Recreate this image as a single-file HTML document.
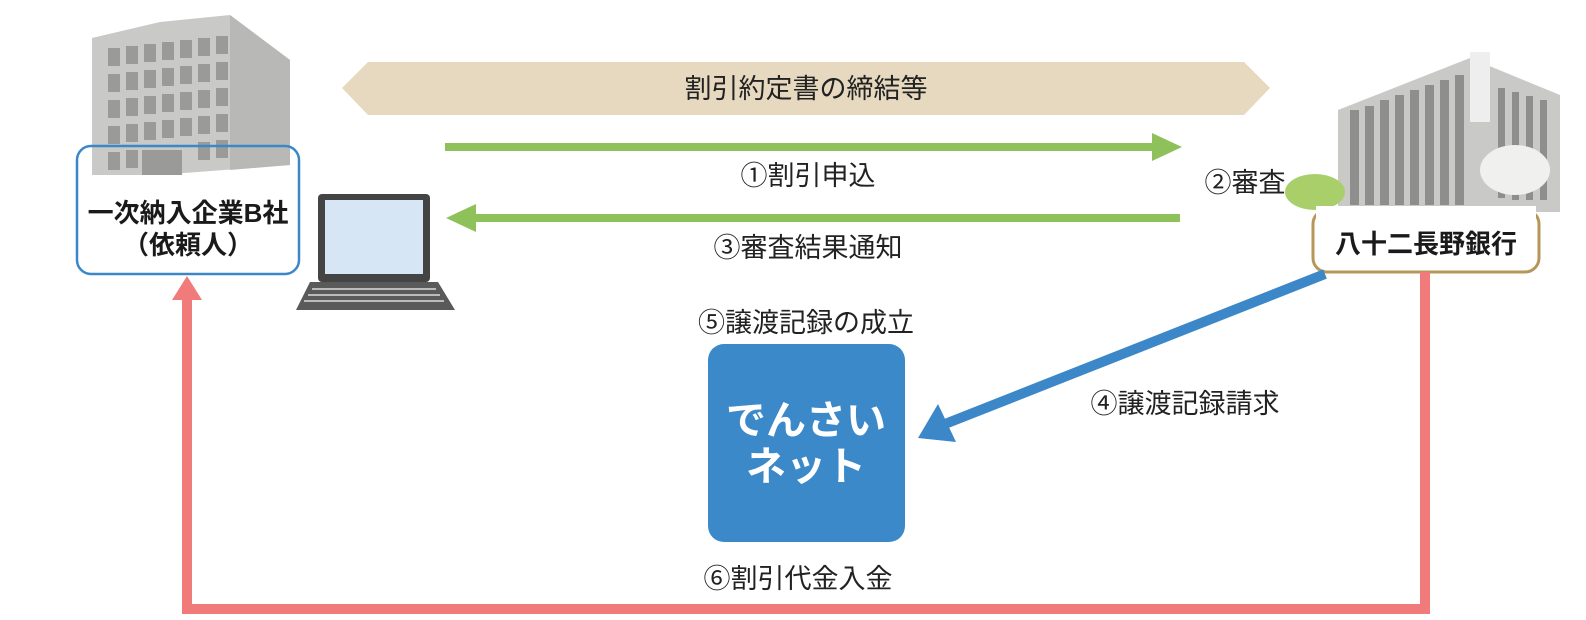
<!DOCTYPE html>
<html><head><meta charset="utf-8"><style>
html,body{margin:0;padding:0;background:#fff;}
svg{display:block;}
text{font-family:"Liberation Sans","Noto Sans CJK JP",sans-serif;}
</style></head><body>
<svg width="1586" height="620" viewBox="0 0 1586 620" xmlns="http://www.w3.org/2000/svg">
<!-- left building -->
<polygon points="92,38 160,22 230,15 290,60 290,165 92,180" fill="#c9c9c7"/>
<polygon points="230,15 290,60 290,165 230,170" fill="#b8b8b6"/>
<g fill="#9a9a98">
<rect x="108" y="48" width="12" height="18"/><rect x="126" y="46" width="12" height="18"/><rect x="144" y="44" width="12" height="18"/><rect x="162" y="42" width="12" height="18"/><rect x="180" y="40" width="12" height="18"/><rect x="198" y="38" width="12" height="18"/><rect x="216" y="36" width="12" height="18"/>
<rect x="108" y="74" width="12" height="18"/><rect x="126" y="72" width="12" height="18"/><rect x="144" y="70" width="12" height="18"/><rect x="162" y="68" width="12" height="18"/><rect x="180" y="66" width="12" height="18"/><rect x="198" y="64" width="12" height="18"/><rect x="216" y="62" width="12" height="18"/>
<rect x="108" y="100" width="12" height="18"/><rect x="126" y="98" width="12" height="18"/><rect x="144" y="96" width="12" height="18"/><rect x="162" y="94" width="12" height="18"/><rect x="180" y="92" width="12" height="18"/><rect x="198" y="90" width="12" height="18"/><rect x="216" y="88" width="12" height="18"/>
<rect x="108" y="126" width="12" height="18"/><rect x="126" y="124" width="12" height="18"/><rect x="144" y="122" width="12" height="18"/><rect x="162" y="120" width="12" height="18"/><rect x="180" y="118" width="12" height="18"/><rect x="198" y="116" width="12" height="18"/><rect x="216" y="114" width="12" height="18"/>
<rect x="108" y="152" width="12" height="18"/><rect x="126" y="150" width="12" height="18"/><rect x="142" y="150" width="40" height="30"/><rect x="198" y="142" width="12" height="18"/><rect x="216" y="140" width="12" height="18"/>
</g>
<!-- left box -->
<rect x="77" y="146" width="222" height="128" rx="14" fill="none" stroke="#3b87c8" stroke-width="2.5"/>
<rect x="80" y="175" width="216" height="10" fill="#fff"/>
<text x="188" y="222" text-anchor="middle" font-size="26" font-weight="bold" fill="#1a1a1a">一次納入企業B社</text>
<text x="188" y="254" text-anchor="middle" font-size="26" font-weight="bold" fill="#1a1a1a">（依頼人）</text>
<!-- laptop -->
<rect x="318" y="194" width="112" height="88" rx="4" fill="#444"/>
<rect x="325" y="200" width="98" height="74" fill="#d6e6f4"/>
<polygon points="310,282 438,282 455,310 296,310" fill="#5a5a5a"/>
<g stroke="#bbb" stroke-width="2"><line x1="312" y1="289" x2="436" y2="289"/><line x1="308" y1="295" x2="440" y2="295"/><line x1="304" y1="301" x2="444" y2="301"/></g>
<!-- tan arrow -->
<polygon points="342,88 368,62 1244,62 1270,88 1244,115 368,115" fill="#e6d9bf"/>
<text x="806" y="98" text-anchor="middle" font-size="27" fill="#222">割引約定書の締結等</text>
<!-- green arrows -->
<rect x="445" y="143" width="712" height="8" fill="#8fc15a"/>
<polygon points="1152,133 1182,147 1152,161" fill="#8fc15a"/>
<rect x="472" y="214" width="708" height="8" fill="#8fc15a"/>
<polygon points="476,204 446,218 476,232" fill="#8fc15a"/>
<text x="808" y="185" text-anchor="middle" font-size="27" fill="#222">①割引申込</text>
<text x="808" y="257" text-anchor="middle" font-size="27" fill="#222">③審査結果通知</text>
<text x="1245" y="192" text-anchor="middle" font-size="27" fill="#222">②審査</text>
<!-- right building -->
<polygon points="1338,110 1470,58 1560,95 1560,212 1338,212" fill="#c9c9c7"/>
<rect x="1470" y="52" width="20" height="70" fill="#eee"/>
<g fill="#8e8e8c">
<rect x="1350" y="110" width="9" height="95"/><rect x="1365" y="106" width="9" height="99"/><rect x="1380" y="100" width="9" height="105"/><rect x="1395" y="95" width="9" height="110"/><rect x="1410" y="90" width="9" height="115"/><rect x="1425" y="85" width="9" height="120"/><rect x="1440" y="80" width="9" height="125"/><rect x="1455" y="75" width="9" height="130"/>
<rect x="1498" y="88" width="7" height="110"/><rect x="1512" y="92" width="7" height="108"/><rect x="1526" y="96" width="7" height="104"/><rect x="1540" y="100" width="7" height="100"/>
</g>
<ellipse cx="1515" cy="170" rx="35" ry="25" fill="#f0f0ee"/>
<ellipse cx="1315" cy="192" rx="30" ry="18" fill="#a8cf6a"/>
<!-- right box -->
<rect x="1313" y="210" width="226" height="62" rx="14" fill="#fff" stroke="#b8965a" stroke-width="3"/>
<rect x="1316" y="206" width="220" height="14" fill="#fff"/>
<text x="1426" y="253" text-anchor="middle" font-size="26" font-weight="bold" fill="#1a1a1a">八十二長野銀行</text>
<!-- blue arrow -->
<line x1="1325" y1="274" x2="945" y2="424" stroke="#3b87c8" stroke-width="10"/>
<polygon points="918,438 938,404 956,442" fill="#3b87c8"/>
<text x="1185" y="413" text-anchor="middle" font-size="27" fill="#222">④譲渡記録請求</text>
<!-- densai -->
<rect x="708" y="344" width="197" height="198" rx="16" fill="#3c89c9"/>
<text x="806" y="434" text-anchor="middle" font-size="40" font-weight="bold" fill="#fff">でんさい</text>
<text x="806" y="480" text-anchor="middle" font-size="40" font-weight="bold" fill="#fff">ネット</text>
<text x="806" y="332" text-anchor="middle" font-size="27" fill="#222">⑤譲渡記録の成立</text>
<text x="798" y="588" text-anchor="middle" font-size="27" fill="#222">⑥割引代金入金</text>
<!-- red path -->
<polyline points="1425,272 1425,609 187,609 187,296" fill="none" stroke="#f07b7a" stroke-width="10"/>
<polygon points="172,300 187,276 202,300" fill="#f07b7a"/>
</svg>
</body></html>
